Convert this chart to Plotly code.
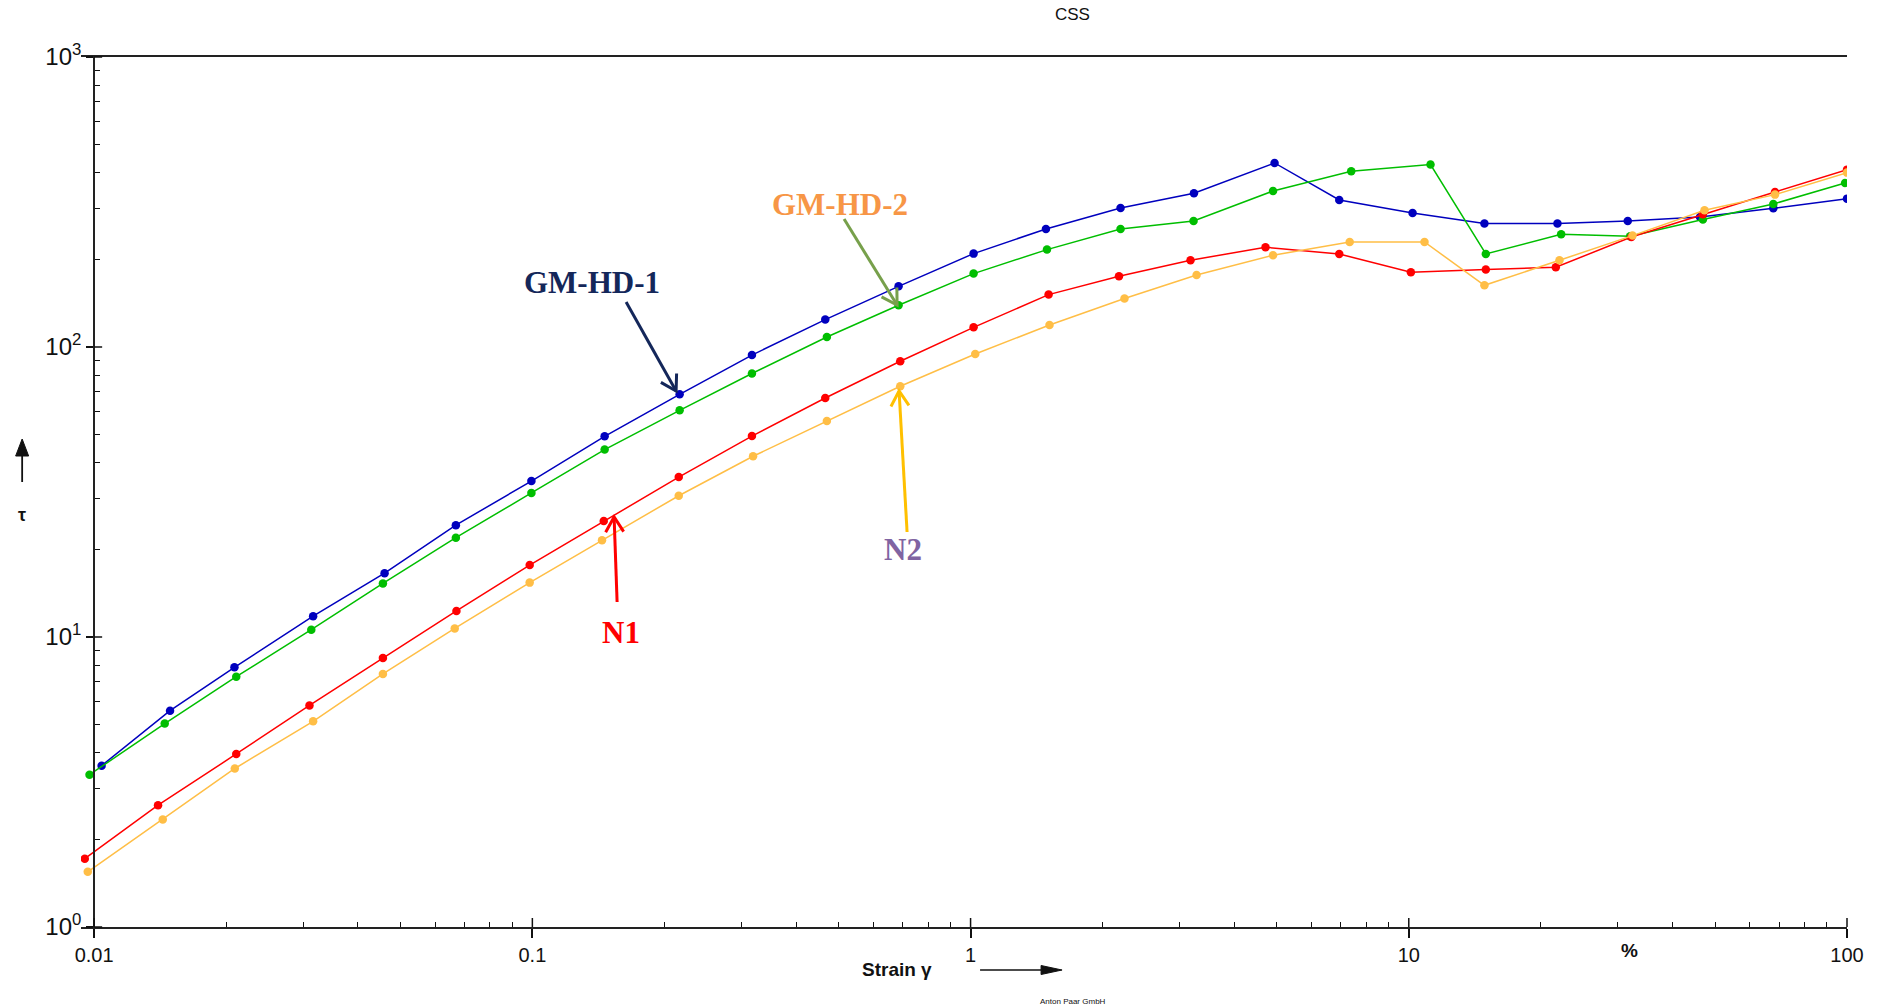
import math
import plotly.graph_objects as go

# Amplitude sweep (CSS): shear stress tau vs strain gamma, four samples
gm_hd_1_strain = [0.0104, 0.0149, 0.0209, 0.0316, 0.0460, 0.0669, 0.0995, 0.1462, 0.2168, 0.317,
                  0.466, 0.685, 1.016, 1.486, 2.199, 3.234, 4.94, 6.94, 10.2, 14.88,
                  21.84, 31.6, 46.2, 67.9, 100]
gm_hd_1_stress = [3.6, 5.57, 7.86, 11.8, 16.6, 24.3, 34.5, 49.2, 68.7, 93.8,
                  124.3, 161.9, 209.9, 255.3, 301.5, 338.8, 431.1, 321.3, 289.8, 266.4,
                  266.4, 272.0, 280.7, 300.9, 324.8]

gm_hd_2_strain = [0.00976, 0.01449, 0.0211, 0.0313, 0.0456, 0.0669, 0.0995, 0.1462, 0.2168, 0.317,
                  0.470, 0.685, 1.016, 1.494, 2.199, 3.227, 4.90, 7.39, 11.21, 14.99,
                  22.27, 32.0, 46.9, 67.9, 99.0]
gm_hd_2_stress = [3.35, 5.03, 7.30, 10.6, 15.3, 22.0, 31.4, 44.3, 60.5, 81.0,
                  108.3, 139.3, 179.1, 216.7, 255.3, 272.0, 345.1, 403.5, 425.6, 209.3,
                  244.7, 240.8, 275.0, 311.2, 367.8]

n1_strain = [0.00952, 0.01399, 0.0211, 0.0310, 0.0456, 0.0671, 0.0986, 0.1455, 0.2158, 0.317,
             0.466, 0.691, 1.016, 1.507, 2.181, 3.176, 4.71, 6.94, 10.11, 14.99,
             21.65, 32.2, 46.9, 68.5, 100]
n1_stress = [1.72, 2.63, 3.95, 5.81, 8.46, 12.3, 17.7, 25.1, 35.6, 49.3,
             66.7, 89.3, 116.9, 151.6, 175.3, 199.1, 220.8, 209.3, 181.0, 184.9,
             188.3, 239.5, 286.8, 342.3, 408.9]

n2_strain = [0.00967, 0.01434, 0.02094, 0.0316, 0.0456, 0.0665, 0.0986, 0.1442, 0.2158, 0.3189,
             0.470, 0.691, 1.025, 1.514, 2.245, 3.279, 4.90, 7.33, 10.86, 14.88,
             22.07, 32.4, 47.3, 68.5, 100]
n2_stress = [1.55, 2.35, 3.52, 5.12, 7.46, 10.7, 15.4, 21.55, 30.7, 42.0,
             55.6, 73.2, 94.6, 119.1, 146.9, 177.1, 207.2, 230.2, 230.2, 163.2,
             199.1, 242.2, 296.0, 335.3, 399.3]

x_ticks = [0.01, 0.1, 1, 10, 100]
x_tick_text = ["0.01", "0.1", "1", "10", "100"]
y_ticks = [1, 10, 100, 1000]
y_tick_text = ["10<sup>0</sup>", "10<sup>1</sup>", "10<sup>2</sup>", "10<sup>3</sup>"]

series = [
    ("GM-HD-1", gm_hd_1_strain, gm_hd_1_stress, "#0000BE"),
    ("GM-HD-2", gm_hd_2_strain, gm_hd_2_stress, "#00BE00"),
    ("N1", n1_strain, n1_stress, "#FF0000"),
    ("N2", n2_strain, n2_stress, "#FFBE46"),
]

W, H = 1884, 1008
# the strain axis starts a little below 0.01 so the first readings stay visible;
# the stress axis is pinned at 0.01
X_LO, X_HI = -2.03, 2.0
Y_LO, Y_HI = 0.0, 3.0
AXIS_PX = 94          # page x of strain = 0.01
RIGHT_PX = 1847       # page x of strain = 100
DECADE = (RIGHT_PX - AXIS_PX) / (X_HI - (-2.0))
L = AXIS_PX - (-2.0 - X_LO) * DECADE
R = W - RIGHT_PX
T, B = 57, 81
PW, PH = W - L - R, H - T - B
Y_POS = (AXIS_PX - L) / PW


def paper(px, py):
    """Convert page pixel position to paper coordinates."""
    return (px - L) / PW, (H - B - py) / PH


fig = go.Figure()
for name, xs, ys, color in series:
    fig.add_trace(go.Scatter(
        x=xs, y=ys, name=name, mode="lines+markers",
        line=dict(color=color, width=1.5),
        marker=dict(color=color, size=8.5),
        showlegend=False,
    ))

minor_x = [m * 10 ** e for e in range(-2, 2) for m in range(2, 10)]
minor_y = [m * 10 ** e for e in range(0, 3) for m in range(2, 10)]

x_font = dict(family="Arial, Liberation Sans, sans-serif", size=20, color="#111")
y_font = dict(family="Arial, Liberation Sans, sans-serif", size=24, color="#111")

fig.update_layout(
    width=W, height=H,
    margin=dict(l=L, r=R, t=T, b=B),
    paper_bgcolor="white", plot_bgcolor="white",
    xaxis=dict(
        type="log", range=[X_LO, X_HI],
        tickvals=x_ticks, ticktext=x_tick_text,
        ticks="outside", ticklen=9, tickwidth=1.5, tickcolor="#111",
        minor=dict(tickvals=minor_x, ticks="inside", ticklen=5, tickwidth=1.2, tickcolor="#111", showgrid=False),
        showline=True, linecolor="#222", linewidth=2, mirror=True,
        showgrid=False, zeroline=False, tickfont=x_font,
    ),
    yaxis=dict(
        type="log", range=[Y_LO, Y_HI], anchor="free", position=Y_POS,
        tickvals=y_ticks, ticktext=y_tick_text,
        ticks="outside", ticklen=7, tickwidth=1.5, tickcolor="#111",
        minor=dict(tickvals=minor_y, ticks="inside", ticklen=5, tickwidth=1.2, tickcolor="#111", showgrid=False),
        showline=True, linecolor="#222", linewidth=2, mirror=True,
        showgrid=False, zeroline=False, tickfont=y_font,
    ),
)

annotations = []
shapes = []

# inner halves of the major ticks, so they cross the axis lines
for v in x_ticks:
    xp = (math.log10(v) - X_LO) / (X_HI - X_LO)
    shapes.append(dict(type="line", xref="paper", yref="paper", x0=xp, x1=xp, y0=0, y1=9 / PH,
                       line=dict(color="#111", width=1.5)))
for v in y_ticks:
    yp = (math.log10(v) - Y_LO) / (Y_HI - Y_LO)
    shapes.append(dict(type="line", xref="paper", yref="paper", x0=Y_POS, x1=Y_POS + 8 / PW, y0=yp, y1=yp,
                       line=dict(color="#111", width=1.5)))


def text(px, py, s, size, color="#111", family="Arial, Liberation Sans, sans-serif", bold=False):
    x, y = paper(px, py)
    annotations.append(dict(
        xref="paper", yref="paper", x=x, y=y, text=f"<b>{s}</b>" if bold else s,
        showarrow=False, xanchor="center", yanchor="middle",
        font=dict(family=family, size=size, color=color),
    ))


def arrow(tail, tip, color, width, head_len, head_half, filled):
    """Pointer drawn as a shaft plus an open (V) or filled (triangle) head."""
    dx, dy = tip[0] - tail[0], tip[1] - tail[1]
    n = math.hypot(dx, dy)
    ux, uy = dx / n, dy / n
    px, py = -uy, ux
    bx, by = tip[0] - ux * head_len, tip[1] - uy * head_len
    left = (bx + px * head_half, by + py * head_half)
    right = (bx - px * head_half, by - py * head_half)
    shaft_end = (bx, by) if filled else tip
    x0, y0 = paper(*tail)
    x1, y1 = paper(*shaft_end)
    shapes.append(dict(type="line", xref="paper", yref="paper", x0=x0, y0=y0, x1=x1, y1=y1,
                       line=dict(color=color, width=width)))
    pts = [paper(*left), paper(*tip), paper(*right)]
    path = "M {} {} L {} {} L {} {}".format(*[c for p in pts for c in p])
    if filled:
        shapes.append(dict(type="path", xref="paper", yref="paper", path=path + " Z",
                           fillcolor=color, line=dict(color=color, width=1)))
    else:
        shapes.append(dict(type="path", xref="paper", yref="paper", path=path,
                           line=dict(color=color, width=width)))


serif = "Times New Roman, Liberation Serif, serif"

# title, axis captions and footer
text(1072, 15, "CSS", 17)
text(897, 969, "Strain γ", 19, bold=True)
text(1629, 950, "%", 19, bold=True)
text(22, 515, "τ", 18, bold=True)
text(1073, 1001, "Anton Paar GmbH", 8)
arrow((980, 970), (1062, 970), "#111", 1.6, 21, 4.5, True)
arrow((22, 482), (22, 439), "#111", 1.8, 17, 6.5, True)

# sample labels with pointers
text(592, 282, "GM-HD-1", 31, color="#14275A", family=serif, bold=True)
arrow((626, 302), (676, 391), "#14275A", 3, 15, 9, False)

text(840, 205, "GM-HD-2", 31, color="#F79646", family=serif, bold=True)
arrow((844, 219), (897, 305), "#77A04B", 3, 15, 9, False)

text(621, 632, "N1", 31, color="#FF0000", family=serif, bold=True)
arrow((617, 602), (614, 517), "#FF0000", 3, 15, 9, False)

text(903, 549, "N2", 31, color="#8064A2", family=serif, bold=True)
arrow((907, 532), (899, 391), "#FFC000", 3, 15, 9, False)

fig.update_layout(annotations=annotations, shapes=shapes)

fig.write_html("out.html")
